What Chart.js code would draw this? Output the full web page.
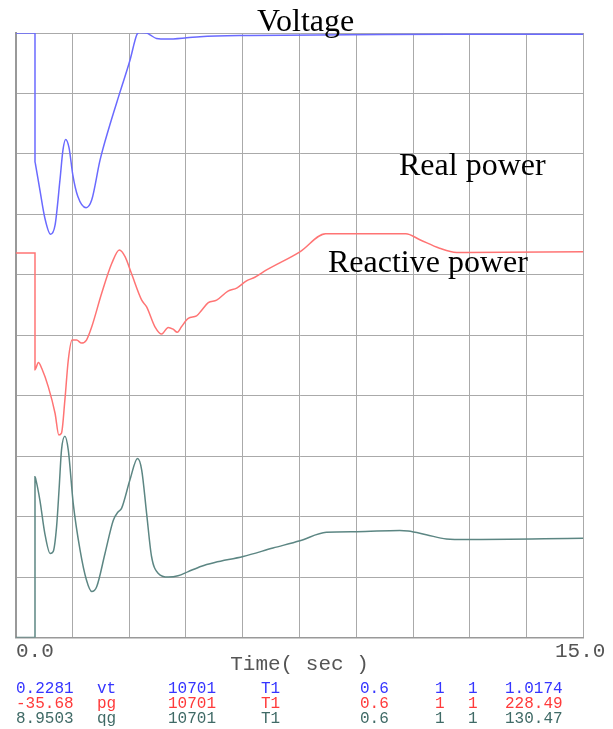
<!DOCTYPE html>
<html>
<head>
<meta charset="utf-8">
<script src="https://cdn.jsdelivr.net/npm/chart.js@4.4.1/dist/chart.umd.min.js"></script>
<style>
  html, body { margin: 0; padding: 0; background: #fff; }
  #wrap { position: relative; width: 613px; height: 729px; overflow: hidden; }
  #wrap canvas { position: absolute; left: 0; top: 0; }
  .note { position: absolute; font-family: 'Liberation Serif', 'Times New Roman', serif; font-size: 32px; line-height: 32px; color: #000; white-space: nowrap; }
  .mono { position: absolute; font-family: 'Liberation Mono', monospace; white-space: nowrap; }
  .tick { font-size: 21px; line-height: 21px; color: #555; }
  .leg { font-size: 16px; line-height: 16px; }
</style>
</head>
<body>
<div id="wrap">
  <canvas id="plot" width="613" height="729"></canvas>
</div>
<script>
// time axis, seconds
const xMin = 0;
const xMax = 15;
const xTickLabels = ['0.0', '15.0'];

// curves, y in grid divisions (0 = bottom, 10 = top)
const vtTime  = [0, 0.51, 0.51, 0.53, 0.64, 0.77, 0.92, 1.04, 1.17, 1.25, 1.32, 1.41, 1.51, 1.64, 1.86, 2.01, 2.23, 2.45, 2.76, 3.02, 3.20, 3.26, 3.46, 3.55, 3.72, 3.99, 4.52, 4.87, 6.19, 8.83, 11.47, 15];
const vtValue = [10, 10, 7.87, 7.80, 7.40, 6.94, 6.67, 6.82, 7.57, 8.07, 8.24, 8.10, 7.65, 7.30, 7.11, 7.24, 7.90, 8.40, 9.03, 9.55, 9.97, 10.01, 10.0, 9.97, 9.91, 9.90, 9.92, 9.94, 9.96, 9.97, 9.98, 9.98];

const pgTime  = [0, 0.51, 0.51, 0.60, 0.69, 0.86, 1.04, 1.14, 1.21, 1.30, 1.39, 1.49, 1.61, 1.74, 1.87, 2.01, 2.27, 2.54, 2.74, 2.89, 3.06, 3.33, 3.46, 3.68, 3.86, 4.03, 4.16, 4.27, 4.38, 4.56, 4.78, 4.91, 5.09, 5.31, 5.61, 5.84, 6.10, 6.32, 6.63, 7.51, 8.19, 10.31, 10.68, 11.20, 11.65, 11.91, 15];
const pgValue = [6.36, 6.36, 4.43, 4.55, 4.45, 4.15, 3.71, 3.35, 3.38, 3.93, 4.59, 4.92, 4.92, 4.87, 4.92, 5.14, 5.69, 6.19, 6.41, 6.30, 6.02, 5.58, 5.47, 5.14, 5.02, 5.13, 5.10, 5.05, 5.14, 5.28, 5.32, 5.41, 5.54, 5.58, 5.73, 5.78, 5.90, 5.96, 6.08, 6.38, 6.68, 6.68, 6.58, 6.44, 6.37, 6.37, 6.38];

const qgTime  = [0, 0.51, 0.51, 0.53, 0.64, 0.77, 0.91, 0.99, 1.08, 1.15, 1.21, 1.30, 1.39, 1.52, 1.70, 1.87, 2.01, 2.14, 2.36, 2.58, 2.71, 2.80, 3.02, 3.22, 3.33, 3.46, 3.59, 3.77, 4.03, 4.29, 4.56, 4.91, 5.26, 6.01, 6.80, 7.51, 8.21, 9.01, 10.15, 10.37, 10.85, 11.38, 11.91, 15];
const qgValue = [0, 0, 2.66, 2.62, 2.27, 1.72, 1.39, 1.42, 1.83, 2.49, 3.10, 3.33, 3.10, 2.22, 1.45, 0.95, 0.76, 0.84, 1.39, 1.94, 2.08, 2.14, 2.61, 2.96, 2.77, 2.05, 1.34, 1.06, 1.00, 1.02, 1.09, 1.18, 1.24, 1.34, 1.48, 1.60, 1.74, 1.75, 1.77, 1.76, 1.70, 1.63, 1.62, 1.64];

// channel table under the plot
const rowValue   = ['0.2281', '-35.68', '8.9503'];
const rowName    = ['vt', 'pg', 'qg'];
const rowBus     = ['10701', '10701', '10701'];
const rowId      = ['T1', 'T1', 'T1'];
const rowScale   = ['0.6', '0.6', '0.6'];
const rowFlagA   = ['1', '1', '1'];
const rowFlagB   = ['1', '1', '1'];
const rowLast    = ['1.0174', '228.49', '130.47'];
const rowColors  = ['#3535ff', '#ff3a3a', '#3f6a66'];

const lineColors = ['#6a6aff', '#ff7474', '#5c8683'];

function pts(xs, ys) {
  return xs.map((x, i) => ({ x: x, y: ys[i] }));
}

const wrap = document.getElementById('wrap');
function addText(cls, text, left, top, color) {
  const d = document.createElement('div');
  d.className = cls;
  d.textContent = text;
  d.style.left = left + 'px';
  d.style.top = top + 'px';
  if (color) d.style.color = color;
  wrap.appendChild(d);
}

new Chart(document.getElementById('plot'), {
  type: 'line',
  data: {
    datasets: [
      { label: 'vt', data: pts(vtTime, vtValue), borderColor: lineColors[0] },
      { label: 'pg', data: pts(pgTime, pgValue), borderColor: lineColors[1] },
      { label: 'qg', data: pts(qgTime, qgValue), borderColor: lineColors[2] },
    ],
  },
  options: {
    responsive: false,
    animation: false,
    layout: { padding: { left: 15.7, top: 33, right: 29.7, bottom: 52.3 } },
    elements: {
      point: { radius: 0 },
      line: { borderWidth: 1.5, cubicInterpolationMode: 'monotone', fill: false },
    },
    plugins: {
      legend: { display: false },
      tooltip: { enabled: false },
    },
    scales: {
      x: {
        type: 'linear',
        min: xMin,
        max: xMax,
        ticks: { stepSize: 1.5, display: false },
        grid: { color: '#aaaaaa', drawTicks: false },
        border: { color: '#999999', width: 1.5 },
        title: {
          display: true,
          text: 'Time( sec )',
          color: '#555',
          font: { family: 'Liberation Mono', size: 21 },
          padding: { top: 14, bottom: 0 },
        },
      },
      y: {
        min: 0,
        max: 10,
        ticks: { stepSize: 1, display: false },
        grid: { color: '#aaaaaa', drawTicks: false },
        border: { color: '#999999', width: 2 },
      },
    },
  },
});

// labels written on the plot
addText('note', 'Voltage', 257, 4);
addText('note', 'Real power', 399, 148);
addText('note', 'Reactive power', 328, 245);

// end labels of the time axis
addText('mono tick', xTickLabels[0], 16, 641);
addText('mono tick', xTickLabels[1], 555, 641);

// channel rows
const cols = [16, 97, 168, 261, 360, 435, 468, 505];
rowValue.forEach((v, i) => {
  const top = 681 + i * 15;
  const fields = [v, rowName[i], rowBus[i], rowId[i], rowScale[i], rowFlagA[i], rowFlagB[i], rowLast[i]];
  fields.forEach((f, j) => addText('mono leg', f, cols[j], top, rowColors[i]));
});
</script>
</body>
</html>
